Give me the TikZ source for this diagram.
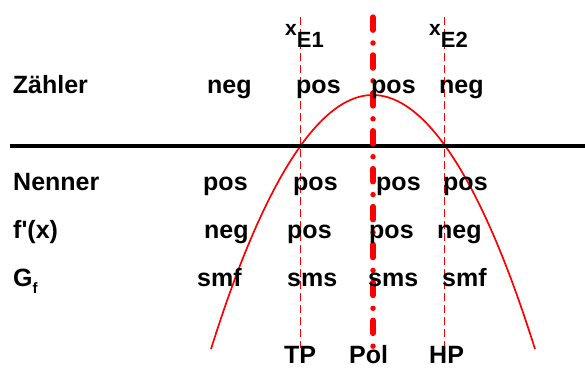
\documentclass[tikz,border=0pt]{standalone}
\usepackage{fontspec}
\setmainfont{Liberation Sans}[Ligatures=TeXOff]
\begin{document}
\begin{tikzpicture}[x=1pt,y=-1pt,
  lbl/.style={anchor=base west, inner sep=0pt, font=\fontsize{25}{30}\selectfont\bfseries},
  guide/.style={red, line width=1pt, dash pattern=on 8pt off 4pt},
  pole/.style={red, line width=5.5pt, line cap=round, dash pattern=on 0pt off 12pt on 13pt off 12.9pt, dash phase=5.9pt},
  axisline/.style={black, line width=3.3pt},
  curve/.style={red, line width=1.7pt}]
\useasboundingbox (0,0) rectangle (585,367);

% guide lines
\coordinate (g1t) at (300,17);   \coordinate (g1b) at (300,348);
\coordinate (g2t) at (444.5,17); \coordinate (g2b) at (444.5,348);
\coordinate (pt) at (373,11);    \coordinate (pb) at (373,348);
\coordinate (al) at (10,146);    \coordinate (ar) at (585,146);
\coordinate (cl) at (211,349);   \coordinate (cv) at (372.7,95);  \coordinate (cr) at (535,349);

\draw[guide] (g1t) -- (g1b);
\draw[guide] (g2t) -- (g2b);
\draw[curve] (cl) parabola bend (cv) (cr);
\draw[axisline] (al) -- (ar);
\draw[pole] (pt) -- (pb);

% headings
\node[lbl] (xe1) at (285,35) {{\fontsize{21}{24}\selectfont x}\raisebox{-12.5pt}{\fontsize{22}{26}\selectfont E1}};
\node[lbl] (xe2) at (429,35) {{\fontsize{21}{24}\selectfont x}\raisebox{-12.5pt}{\fontsize{22}{26}\selectfont E2}};

% row labels
\node[lbl] (rz) at (12.7,93.5) {Zähler};
\node[lbl] (rn) at (13,190.5) {Nenner};
\node[lbl] (rf) at (13,238) {f'(x)};
\node[lbl] (rg) at (13,286) {G\raisebox{-7pt}{\fontsize{15}{17}\selectfont f}};

% Zähler row
\node[lbl] (z1) at (207,93.5) {neg};
\node[lbl] (z2) at (296,93.5) {pos};
\node[lbl] (z3) at (371,93.5) {pos};
\node[lbl] (z4) at (439,93.5) {neg};

% Nenner row
\node[lbl] (n1) at (203,190.5) {pos};
\node[lbl] (n2) at (293,190.5) {pos};
\node[lbl] (n3) at (376,190.5) {pos};
\node[lbl] (n4) at (443,190.5) {pos};

% f'(x) row
\node[lbl] (f1) at (204,238) {neg};
\node[lbl] (f2) at (287,238) {pos};
\node[lbl] (f3) at (369,238) {pos};
\node[lbl] (f4) at (437,238) {neg};

% G_f row
\node[lbl] (s1) at (197,286) {smf};
\node[lbl] (s2) at (287,286) {sms};
\node[lbl] (s3) at (368,286) {sms};
\node[lbl] (s4) at (442,286) {smf};

% bottom labels
\node[lbl, text depth=0pt] (tp) at (284,363) {TP};
\node[lbl, text depth=0pt] (pol) at (349,363) {Pol};
\node[lbl, text depth=0pt] (hp) at (429,363) {HP};
\end{tikzpicture}
\end{document}
